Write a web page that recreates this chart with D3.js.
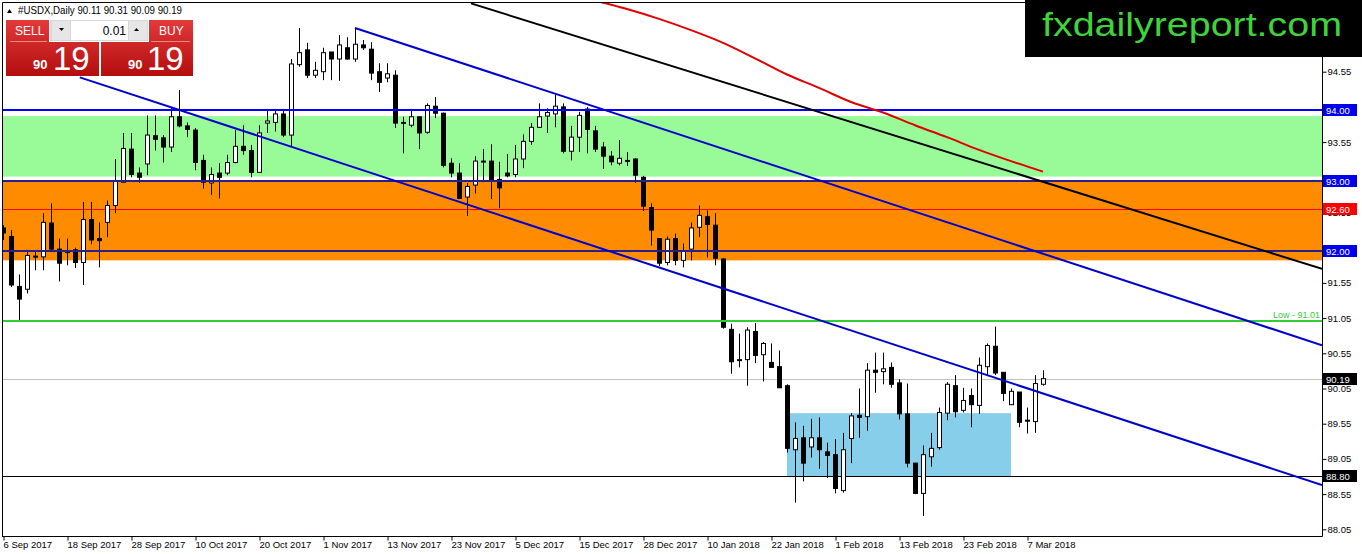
<!DOCTYPE html>
<html>
<head>
<meta charset="utf-8">
<script src="https://cdn.jsdelivr.net/npm/d3@7"></script>
<style>
body { margin: 0; background: #fff; overflow: hidden }
text { font-family: "Liberation Sans", Arial, sans-serif }
</style>
</head>
<body>
<div id="container"></div>
<script>
var w = 1362
var h = 554

// daily candles, 6 Sep 2017 .. 9 Mar 2018 (bar index 0..130)
var opens = [92.33,92.21,91.50,91.46,91.93,91.92,92.40,92.03,91.98,92.02,91.84,92.45,92.18,92.41,92.65,92.98,93.45,93.11,93.24,93.64,
  93.61,93.48,93.91,93.78,93.72,93.29,92.97,93.11,93.11,93.26,93.49,93.43,93.12,93.82,93.83,93.95,93.65,94.65,94.86,94.50,
  94.55,94.83,94.73,94.89,94.73,94.93,94.87,94.55,94.46,94.50,93.82,93.79,93.91,93.69,94.06,93.96,93.25,93.11,92.77,92.94,
  93.27,93.28,93.02,93.11,93.09,93.31,93.56,93.76,93.92,93.95,94.05,93.42,93.62,94.02,93.71,93.48,93.35,93.25,93.28,93.31,
  93.05,92.62,92.18,91.84,92.18,91.87,92.03,92.34,92.49,92.37,91.89,90.89,90.45,90.46,90.86,90.53,90.42,90.36,90.09,89.18,
  89.35,89.22,89.35,89.15,89.11,88.60,89.34,89.67,89.65,90.31,90.29,90.35,90.13,89.69,88.99,88.56,89.08,89.21,89.70,90.09,
  89.74,89.95,89.81,90.36,90.65,90.28,89.82,90.00,89.60,89.58,90.11]
var highs = [92.37,92.30,91.67,92.01,92.01,92.54,92.68,92.18,92.18,92.05,92.70,92.70,92.41,92.72,93.31,93.68,93.68,93.19,93.93,93.93,
  93.65,94.05,94.29,93.83,93.75,93.37,93.19,93.25,93.37,93.72,93.79,93.51,93.79,94.02,94.02,94.02,94.73,95.17,94.96,94.69,
  94.89,94.83,95.07,95.04,95.17,95.00,94.97,94.67,94.67,94.57,93.91,94.00,93.91,94.10,94.19,93.97,93.32,93.25,92.97,93.35,
  93.45,93.52,93.27,93.38,93.51,93.66,93.82,94.10,94.03,94.22,94.10,93.78,93.98,94.05,93.78,93.55,93.42,93.58,93.41,93.32,
  93.07,92.68,92.18,92.21,92.25,92.11,92.41,92.65,92.58,92.54,91.90,90.97,90.83,90.92,90.98,90.71,90.69,90.59,90.11,89.57,
  89.52,89.62,89.64,89.28,89.33,89.42,89.70,90.05,90.41,90.56,90.56,90.42,90.18,90.12,88.99,89.24,89.42,89.78,90.14,90.24,
  90.06,90.05,90.49,90.69,90.93,90.28,90.05,90.00,89.78,90.24,90.31]
var lows = [92.16,91.49,91.01,91.40,91.73,91.73,92.01,91.57,91.80,91.76,91.52,92.10,91.77,92.20,92.54,92.98,93.05,92.97,93.08,93.43,
  93.26,93.41,93.76,93.62,93.15,92.89,92.80,92.75,93.08,93.25,93.37,93.05,93.12,93.68,93.70,93.62,93.48,94.62,94.46,94.46,
  94.43,94.43,94.42,94.72,94.69,94.86,94.43,94.26,94.40,93.75,93.39,93.76,93.45,93.67,93.89,93.19,93.05,92.74,92.50,92.82,
  92.98,92.74,92.61,93.05,93.05,93.18,93.51,93.75,93.68,93.76,93.39,93.29,93.41,93.39,93.41,93.17,93.22,93.22,93.21,92.97,
  92.57,92.08,91.79,91.80,91.80,91.77,91.87,92.20,91.91,91.80,90.90,90.26,90.35,90.09,90.41,90.15,90.35,90.06,89.14,88.43,
  88.73,89.07,88.91,88.78,88.56,88.57,88.99,89.35,89.45,89.99,90.11,90.06,89.61,88.93,88.55,88.24,88.94,89.18,89.60,89.64,
  89.71,89.50,89.69,90.24,90.24,89.87,89.82,89.50,89.41,89.42,90.09]
var closes = [92.26,91.52,91.32,91.94,91.92,92.41,92.03,91.83,92.00,91.84,92.45,92.16,92.15,92.65,92.99,93.46,93.09,93.05,93.65,93.59,
  93.48,93.91,93.78,93.73,93.26,92.98,93.09,93.05,93.26,93.49,93.43,93.12,93.68,93.85,93.95,93.65,94.66,94.82,94.50,94.57,
  94.82,94.73,94.93,94.73,94.94,94.89,94.53,94.40,94.52,93.82,93.83,93.91,93.68,94.07,93.96,93.22,93.11,92.75,92.92,93.28,
  93.28,93.02,92.90,93.07,93.31,93.56,93.76,93.91,93.97,94.06,93.42,93.62,93.93,93.73,93.45,93.35,93.27,93.32,93.29,93.08,
  92.64,92.30,91.83,92.17,91.87,92.01,92.33,92.51,92.38,91.90,90.92,90.43,90.46,90.88,90.52,90.69,90.35,90.06,89.20,89.34,
  88.99,89.35,89.18,89.10,88.63,89.18,89.66,89.64,90.31,90.28,90.33,90.11,89.69,88.99,88.56,89.11,89.20,89.71,90.11,89.72,
  89.88,89.82,90.38,90.66,90.27,89.98,90.01,89.57,89.59,90.12,90.19]

// moving average
var maBars = [74, 78, 82, 86, 90, 94, 98, 102, 106, 110, 114, 118, 122, 126, 130]
var maValues = [95.56, 95.44, 95.30, 95.14, 94.96, 94.74, 94.51, 94.32, 94.12, 93.97, 93.79, 93.62, 93.44, 93.28, 93.13]

// trend lines: two anchor points [bar, price], drawn as rays to the right
var upperChannel = [[44, 95.17], [110, 92.71]]
var lowerChannel = [[9.6, 94.47], [60, 92.59]]
var blackTrend = [[58.5, 95.52], [120, 93.34]]

var greenZone = [93.92, 93.06]
var orangeZone = [92.99, 91.87]
var blueBox = {from: 98, to: 126, top: 89.70, bottom: 88.80}

var dateTicks = [0, 8, 16, 24, 32, 40, 48, 56, 64, 72, 80, 88, 96, 104, 112, 120, 128]
var dateLabels = ["6 Sep 2017", "18 Sep 2017", "28 Sep 2017", "10 Oct 2017", "20 Oct 2017", "1 Nov 2017",
  "13 Nov 2017", "23 Nov 2017", "5 Dec 2017", "15 Dec 2017", "28 Dec 2017", "10 Jan 2018",
  "22 Jan 2018", "1 Feb 2018", "13 Feb 2018", "23 Feb 2018", "7 Mar 2018"]
var priceTicks = [88.05, 88.55, 89.05, 89.55, 90.05, 90.55, 91.05, 91.55, 92.05, 92.55, 93.05, 93.55, 94.05, 94.55, 95.05]
// labels that sit fully under a price tag are not shown
var hiddenTickLabels = [92.05, 94.05]

var lastPrice = 90.19
var lowLevel = 91.01
var supportLevel = 88.80
var levelLines = [94.00, 93.00, 92.00]
var redLevel = 92.60

var plotL = 2, plotR = 1322, plotT = 2, plotB = 536

var x = d3.scaleLinear().domain([0, 130]).range([3, 1043])
var y = d3.scaleLinear().domain([88.05, 94.55]).range([529.3, 71.7])

var svg = d3.select("#container").append("svg")
    .attr("width", w)
    .attr("height", h)
    .style("display", "block")
    .style("background", "#fff")

var defs = svg.append("defs")
defs.append("clipPath").attr("id", "plot")
  .append("rect").attr("x", plotL).attr("y", plotT).attr("width", plotR - plotL).attr("height", plotB - plotT)

var g = svg.append("g").attr("clip-path", "url(#plot)")

// zones
g.append("rect").attr("x", plotL).attr("width", plotR - plotL)
    .attr("y", y(greenZone[0])).attr("height", y(greenZone[1]) - y(greenZone[0]))
    .attr("fill", "#98fb98")
g.append("rect").attr("x", plotL).attr("width", plotR - plotL)
    .attr("y", y(orangeZone[0])).attr("height", y(orangeZone[1]) - y(orangeZone[0]))
    .attr("fill", "#ff8c00")
g.append("rect").attr("x", x(blueBox.from)).attr("width", x(blueBox.to) - x(blueBox.from))
    .attr("y", y(blueBox.top)).attr("height", y(blueBox.bottom) - y(blueBox.top))
    .attr("fill", "#87ceeb")

// thin horizontal lines
function hline(p, color, width) {
    var yy = Math.round(y(p)) + (width % 2 ? 0.5 : 0)
    g.append("line").attr("x1", plotL).attr("x2", plotR)
        .attr("y1", yy).attr("y2", yy)
        .attr("stroke", color).attr("stroke-width", width)
}
hline(lastPrice, "#c0c0c0", 1)
hline(supportLevel, "#000", 1)
hline(redLevel, "#ff0000", 1)

// candles
var idx = d3.range(opens.length)
var candles = g.selectAll("g.candle").data(idx).enter().append("g").attr("class", "candle")
candles.append("line")
    .attr("x1", function (i) { return x(i) + 0.5 })
    .attr("x2", function (i) { return x(i) + 0.5 })
    .attr("y1", function (i) { return y(highs[i]) })
    .attr("y2", function (i) { return y(lows[i]) })
    .attr("stroke", "#000").attr("stroke-width", 1)
candles.append("rect")
    .attr("x", function (i) { return x(i) - 1.5 })
    .attr("width", 4)
    .attr("y", function (i) { return y(Math.max(opens[i], closes[i])) })
    .attr("height", function (i) { return Math.max(1, Math.abs(y(opens[i]) - y(closes[i]))) })
    .attr("fill", function (i) { return closes[i] >= opens[i] ? "#fff" : "#000" })
    .attr("stroke", "#000").attr("stroke-width", 1)

// level lines on top of candles
levelLines.forEach(function (p, k) {
    hline(p, k == 0 ? "#0000ff" : "#2a1f86", 2)
})
hline(lowLevel, "#32cd32", 2)

// trend rays
function ray(pts, color) {
    var x0 = x(pts[0][0]), y0 = y(pts[0][1])
    var slope = (y(pts[1][1]) - y0) / (x(pts[1][0]) - x0)
    g.append("line").attr("x1", x0).attr("y1", y0)
        .attr("x2", plotR).attr("y2", y0 + slope * (plotR - x0))
        .attr("stroke", color).attr("stroke-width", 2)
}
ray(upperChannel, "#0000cd")
ray(lowerChannel, "#0000cd")
ray(blackTrend, "#000")

// moving average
var ma = d3.line()
    .x(function (d, i) { return x(maBars[i]) })
    .y(function (d) { return y(d) })
    .curve(d3.curveMonotoneX)
g.append("path").attr("d", ma(maValues))
    .attr("fill", "none").attr("stroke", "#e00000").attr("stroke-width", 2)

g.append("text").attr("x", plotR - 2).attr("y", y(lowLevel) - 3)
    .attr("text-anchor", "end").attr("font-size", 9).attr("fill", "#32cd32")
    .text("Low - " + lowLevel.toFixed(2))

// frame
svg.append("path")
    .attr("d", "M" + (plotL + 0.5) + "," + plotB + "V" + (plotT + 0.5) + "H" + (plotR + 0.5) + "V" + (plotB + 0.5) + "H" + plotL)
    .attr("fill", "none").attr("stroke", "#000").attr("stroke-width", 1)

// price axis
var yAxis = svg.append("g").attr("transform", "translate(" + (plotR + 0.5) + ",0)")
    .call(d3.axisRight(y).tickValues(priceTicks)
        .tickFormat(function (d) { return hiddenTickLabels.indexOf(d) >= 0 ? "" : d.toFixed(2) })
        .tickSize(4).tickPadding(1))
yAxis.select(".domain").remove()
yAxis.selectAll("text").attr("font-size", 9.5).attr("fill", "#000")

// time axis
var xAxis = svg.append("g").attr("transform", "translate(0," + (plotB + 0.5) + ")")
    .call(d3.axisBottom(x).tickValues(dateTicks).tickFormat(function (d, i) { return dateLabels[i] }).tickSize(4))
xAxis.select(".domain").remove()
xAxis.selectAll(".tick line").attr("transform", "translate(0.5,0)")
xAxis.selectAll("text").attr("font-size", 9.5).attr("fill", "#000")
    .attr("text-anchor", "start").attr("y", 5).attr("dy", "0.71em")

// price tags
function tag(p, bg) {
    var yy = Math.round(y(p))
    svg.append("rect").attr("x", plotR + 1).attr("y", yy - 6).attr("width", 34).attr("height", 12).attr("fill", bg)
    svg.append("text").attr("x", plotR + 4).attr("y", yy + 4).attr("font-size", 9.5).attr("fill", "#fff").text(p.toFixed(2))
}
levelLines.forEach(function (p) { tag(p, "#0000ee") })
tag(redLevel, "#ff0000")
tag(lastPrice, "#000")
tag(supportLevel, "#000")

// header
svg.append("path").attr("d", "M7,13 L12,13 L9.5,9 Z").attr("fill", "#000")
svg.append("text").attr("x", 18).attr("y", 14).attr("font-size", 11).attr("fill", "#000")
    .attr("textLength", 164).attr("lengthAdjust", "spacingAndGlyphs")
    .text("#USDX,Daily  " + [opens[130], highs[130], lows[130], closes[130]].map(function (v) { return v.toFixed(2) }).join(" "))

// one click trading panel
var grad = defs.append("linearGradient").attr("id", "red").attr("x1", 0).attr("y1", 0).attr("x2", 0).attr("y2", 1)
grad.append("stop").attr("offset", "0%").attr("stop-color", "#e23a3a")
grad.append("stop").attr("offset", "100%").attr("stop-color", "#b30d0d")

var panel = svg.append("g")
panel.append("path").attr("d", "M6,20H49V42H99V76H6Z").attr("fill", "url(#red)")
panel.append("path").attr("d", "M149,20H193V76H101V42H149Z").attr("fill", "url(#red)")
panel.append("line").attr("x1", 10).attr("x2", 47).attr("y1", 41.5).attr("y2", 41.5).attr("stroke", "#e88").attr("stroke-width", 1)
panel.append("line").attr("x1", 151).attr("x2", 190).attr("y1", 41.5).attr("y2", 41.5).attr("stroke", "#e88").attr("stroke-width", 1)
panel.append("rect").attr("x", 50).attr("y", 20).attr("width", 98).attr("height", 21).attr("fill", "#d8d8d8")
panel.append("rect").attr("x", 52).attr("y", 21).attr("width", 18).attr("height", 19).attr("fill", "#e6e6e6")
panel.append("rect").attr("x", 71).attr("y", 21).attr("width", 57).attr("height", 19).attr("fill", "#fff")
panel.append("rect").attr("x", 129).attr("y", 21).attr("width", 18).attr("height", 19).attr("fill", "#e6e6e6")
panel.append("path").attr("d", "M59,28H64L61.5,31Z").attr("fill", "#000")
panel.append("path").attr("d", "M134,31H139L136.5,28Z").attr("fill", "#000")
panel.append("text").attr("x", 126).attr("y", 35).attr("text-anchor", "end").attr("font-size", 12).attr("fill", "#000").text("0.01")
panel.append("text").attr("x", 15).attr("y", 35).attr("font-size", 12).attr("fill", "#fff").text("SELL")
panel.append("text").attr("x", 159).attr("y", 35).attr("font-size", 12).attr("fill", "#fff").text("BUY")
var bid = Math.floor(lastPrice), pips = Math.round((lastPrice - bid) * 100)
;[[33, 53], [128, 147]].forEach(function (p) {
    panel.append("text").attr("x", p[0]).attr("y", 69).attr("font-size", 13).attr("font-weight", "bold").attr("fill", "#fff").text(bid)
    panel.append("text").attr("x", p[1]).attr("y", 70).attr("font-size", 33).attr("fill", "#fff").text(pips)
})

// watermark box
svg.append("rect").attr("x", 1025).attr("y", 0).attr("width", w - 1025).attr("height", 57).attr("fill", "#000")
svg.append("text").attr("x", 1042).attr("y", 36).attr("font-size", 33).attr("fill", "#3ed43a")
    .attr("textLength", 300).attr("lengthAdjust", "spacingAndGlyphs")
    .text("fxdailyreport.com")
</script>
</body>
</html>
